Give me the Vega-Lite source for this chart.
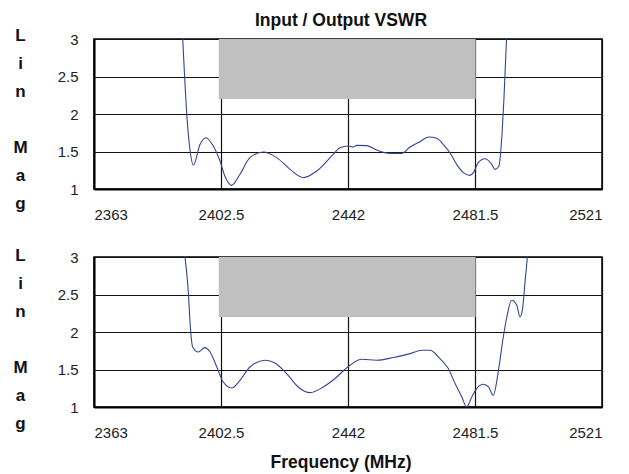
{
  "$schema": "https://vega.github.io/schema/vega-lite/v6.json",
  "background": "white",
  "padding": {"left": 12, "top": 10, "right": 11, "bottom": 4},
  "spacing": 68,
  "bounds": "flush",
  "config": {
    "font": "Liberation Sans",
    "view": {"stroke": "#000", "strokeWidth": 1.5},
    "axis": {
      "grid": true, "gridColor": "#111", "gridWidth": 1.2, "gridOpacity": 1,
      "domainColor": "#000", "domainWidth": 2,
      "ticks": false, "tickSize": 0,
      "labelFont": "Liberation Sans", "labelFontSize": 15, "labelColor": "#222",
      "titleFont": "Liberation Sans", "titleFontSize": 17, "titleFontWeight": "bold", "titleColor": "#111",
      "zindex": 1
    }
  },
  "datasets": {
    "top": [
      {"f": 2390.6, "v": 3}, {"f": 2392.0, "v": 1.907}, {"f": 2392.9, "v": 1.507}, {"f": 2393.9, "v": 1.316},
      {"f": 2396.0, "v": 1.596}, {"f": 2397.8, "v": 1.684}, {"f": 2400.1, "v": 1.573}, {"f": 2402.2, "v": 1.373},
      {"f": 2403.7, "v": 1.173}, {"f": 2405.8, "v": 1.049}, {"f": 2408.4, "v": 1.196}, {"f": 2411.5, "v": 1.418},
      {"f": 2415.7, "v": 1.493}, {"f": 2419.8, "v": 1.418}, {"f": 2424.0, "v": 1.262}, {"f": 2428.1, "v": 1.151},
      {"f": 2432.3, "v": 1.24}, {"f": 2437.4, "v": 1.462}, {"f": 2439.5, "v": 1.551}, {"f": 2442.1, "v": 1.573},
      {"f": 2443.7, "v": 1.56}, {"f": 2444.7, "v": 1.582}, {"f": 2447.8, "v": 1.578}, {"f": 2450.9, "v": 1.52},
      {"f": 2455.1, "v": 1.475}, {"f": 2458.7, "v": 1.475}, {"f": 2461.3, "v": 1.56}, {"f": 2464.4, "v": 1.631},
      {"f": 2467.0, "v": 1.693}, {"f": 2469.6, "v": 1.676}, {"f": 2471.6, "v": 1.596}, {"f": 2473.7, "v": 1.484},
      {"f": 2475.8, "v": 1.329}, {"f": 2477.9, "v": 1.218}, {"f": 2479.9, "v": 1.182}, {"f": 2481.0, "v": 1.218},
      {"f": 2482.5, "v": 1.351}, {"f": 2484.6, "v": 1.404}, {"f": 2486.7, "v": 1.329}, {"f": 2487.7, "v": 1.262},
      {"f": 2488.9, "v": 1.3}, {"f": 2489.9, "v": 1.73}, {"f": 2490.5, "v": 2.2}, {"f": 2491.3, "v": 3}
    ],
    "bot": [
      {"f": 2391.3, "v": 3}, {"f": 2392.3, "v": 2.556}, {"f": 2392.9, "v": 2.112}, {"f": 2393.3, "v": 1.9},
      {"f": 2393.7, "v": 1.8}, {"f": 2395.4, "v": 1.733}, {"f": 2397.5, "v": 1.792}, {"f": 2399.1, "v": 1.733},
      {"f": 2401.2, "v": 1.533}, {"f": 2403.2, "v": 1.333}, {"f": 2405.8, "v": 1.253}, {"f": 2408.4, "v": 1.356},
      {"f": 2411.5, "v": 1.533}, {"f": 2416.2, "v": 1.623}, {"f": 2419.3, "v": 1.587}, {"f": 2422.9, "v": 1.445},
      {"f": 2426.5, "v": 1.267}, {"f": 2430.2, "v": 1.192}, {"f": 2434.3, "v": 1.267}, {"f": 2438.5, "v": 1.4},
      {"f": 2441.0, "v": 1.5}, {"f": 2442.6, "v": 1.556}, {"f": 2446.3, "v": 1.636}, {"f": 2450.9, "v": 1.623},
      {"f": 2456.1, "v": 1.659}, {"f": 2461.3, "v": 1.712}, {"f": 2464.9, "v": 1.756}, {"f": 2467.5, "v": 1.756},
      {"f": 2470.6, "v": 1.645}, {"f": 2473.2, "v": 1.512}, {"f": 2475.3, "v": 1.312}, {"f": 2477.4, "v": 1.133},
      {"f": 2478.9, "v": 1.0}, {"f": 2480.5, "v": 1.133}, {"f": 2482.0, "v": 1.245}, {"f": 2484.1, "v": 1.303},
      {"f": 2485.7, "v": 1.267}, {"f": 2487.2, "v": 1.156}, {"f": 2488.8, "v": 1.489}, {"f": 2490.3, "v": 1.933},
      {"f": 2491.4, "v": 2.2}, {"f": 2492.9, "v": 2.423}, {"f": 2494.5, "v": 2.356}, {"f": 2495.5, "v": 2.2},
      {"f": 2496.3, "v": 2.312}, {"f": 2497.1, "v": 2.689}, {"f": 2497.8, "v": 3}
    ],
    "band": [{"x1": 2401.8, "x2": 2481.7, "y1": 2.2, "y2": 3}]
  },
  "vconcat": [
    {
      "width": 508, "height": 150,
      "title": {"text": "Input / Output VSWR", "anchor": "middle", "frame": "group", "font": "Liberation Sans", "fontSize": 17.5, "fontWeight": "bold", "color": "#111", "dx": -7, "baseline": "alphabetic", "offset": -17},
      "layer": [
        {
          "data": {"name": "band"},
          "mark": {"type": "rect", "color": "#c0c0c0"},
          "encoding": {
            "x": {"field": "x1", "type": "quantitative", "scale": {"domain": [2363, 2521], "nice": false, "zero": false},
                  "axis": {"values": [2363, 2402.5, 2442, 2481.5, 2521], "labelExpr": "datum.value + ''", "title": null, "labelBaseline": "alphabetic", "labelPadding": 30}},
            "x2": {"field": "x2"},
            "y": {"field": "y1", "type": "quantitative", "scale": {"domain": [1, 3], "nice": false, "zero": false},
                  "axis": {"values": [1, 1.5, 2, 2.5, 3], "labelExpr": "datum.value + ''", "labelPadding": 16,
                           "title": ["L", "i", "n", "\u2800", "M", "a", "g"], "titleAngle": 0, "titleAlign": "center", "titleBaseline": "alphabetic",
                           "titleX": -74, "titleY": 1, "titleLineHeight": 28}},
            "y2": {"field": "y2"}
          }
        },
        {
          "data": {"name": "top"},
          "mark": {"type": "line", "color": "#34458f", "strokeWidth": 1.1, "clip": true, "interpolate": "monotone"},
          "encoding": {
            "x": {"field": "f", "type": "quantitative", "scale": {"domain": [2363, 2521], "nice": false, "zero": false},
                  "axis": {"values": [2363, 2402.5, 2442, 2481.5, 2521], "labelExpr": "datum.value + ''", "title": null, "labelBaseline": "alphabetic", "labelPadding": 30}},
            "y": {"field": "v", "type": "quantitative", "scale": {"domain": [1, 3], "nice": false, "zero": false},
                  "axis": {"values": [1, 1.5, 2, 2.5, 3], "labelExpr": "datum.value + ''", "labelPadding": 16,
                           "title": ["L", "i", "n", "\u2800", "M", "a", "g"], "titleAngle": 0, "titleAlign": "center", "titleBaseline": "alphabetic",
                           "titleX": -74, "titleY": 1, "titleLineHeight": 28}}
          }
        }
      ]
    },
    {
      "width": 508, "height": 150,
      "layer": [
        {
          "data": {"name": "band"},
          "mark": {"type": "rect", "color": "#c0c0c0"},
          "encoding": {
            "x": {"field": "x1", "type": "quantitative", "scale": {"domain": [2363, 2521], "nice": false, "zero": false},
                  "axis": {"values": [2363, 2402.5, 2442, 2481.5, 2521], "labelExpr": "datum.value + ''", "title": "Frequency (MHz)", "labelBaseline": "alphabetic", "labelPadding": 30,
                           "titleFontSize": 17.5, "titleBaseline": "alphabetic", "titleX": 246.5, "titleY": 60, "titleAlign": "center"}},
            "x2": {"field": "x2"},
            "y": {"field": "y1", "type": "quantitative", "scale": {"domain": [1, 3], "nice": false, "zero": false},
                  "axis": {"values": [1, 1.5, 2, 2.5, 3], "labelExpr": "datum.value + ''", "labelPadding": 16,
                           "title": ["L", "i", "n", "\u2800", "M", "a", "g"], "titleAngle": 0, "titleAlign": "center", "titleBaseline": "alphabetic",
                           "titleX": -74, "titleY": 3, "titleLineHeight": 28}},
            "y2": {"field": "y2"}
          }
        },
        {
          "data": {"name": "bot"},
          "mark": {"type": "line", "color": "#34458f", "strokeWidth": 1.1, "clip": true, "interpolate": "monotone"},
          "encoding": {
            "x": {"field": "f", "type": "quantitative", "scale": {"domain": [2363, 2521], "nice": false, "zero": false},
                  "axis": {"values": [2363, 2402.5, 2442, 2481.5, 2521], "labelExpr": "datum.value + ''", "title": "Frequency (MHz)", "labelBaseline": "alphabetic", "labelPadding": 30,
                           "titleFontSize": 17.5, "titleBaseline": "alphabetic", "titleX": 246.5, "titleY": 60, "titleAlign": "center"}},
            "y": {"field": "v", "type": "quantitative", "scale": {"domain": [1, 3], "nice": false, "zero": false},
                  "axis": {"values": [1, 1.5, 2, 2.5, 3], "labelExpr": "datum.value + ''", "labelPadding": 16,
                           "title": ["L", "i", "n", "\u2800", "M", "a", "g"], "titleAngle": 0, "titleAlign": "center", "titleBaseline": "alphabetic",
                           "titleX": -74, "titleY": 3, "titleLineHeight": 28}}
          }
        }
      ]
    }
  ]
}
